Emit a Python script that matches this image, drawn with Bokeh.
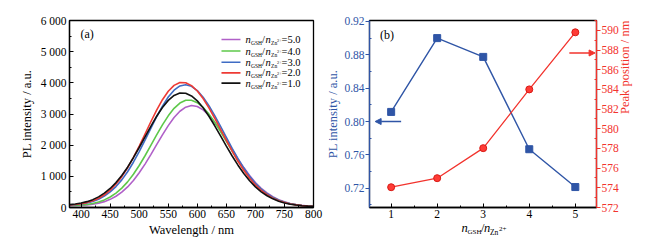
import math
from bokeh.plotting import figure
from bokeh.layouts import row, column
from bokeh.models import Range1d, LinearAxis, FixedTicker, Label, Arrow, NormalHead
from bokeh.embed import file_html
from bokeh.resources import INLINE

FONT = "Liberation Serif"

# ---------------- data: panel (a) ----------------
wavelength = [380, 390, 400, 410, 420, 430, 440, 450, 460, 470,
              480, 490, 500, 510, 520, 530, 540, 550, 560, 570,
              580, 590, 600, 610, 620, 630, 640, 650, 660, 670,
              680, 690, 700, 710, 720, 730, 740, 750, 760, 770,
              780, 790, 800]

pl_ratio_5 = [60, 62, 68, 81, 103, 137, 188, 261, 361, 492,
              659, 868, 1114, 1393, 1697, 2015, 2332, 2628, 2886, 3088,
              3219, 3270, 3239, 3133, 2960, 2731, 2461, 2166, 1862, 1562,
              1281, 1025, 801, 617, 466, 344, 251, 181, 129, 94,
              68, 50, 39]
pl_ratio_4 = [65, 69, 80, 99, 130, 177, 244, 337, 462, 623,
              822, 1066, 1348, 1660, 1991, 2328, 2651, 2942, 3181, 3350,
              3439, 3440, 3362, 3211, 2997, 2734, 2438, 2124, 1809, 1506,
              1224, 973, 756, 579, 436, 321, 234, 168, 121, 88,
              64, 48, 37]
pl_ratio_3 = [77, 89, 110, 143, 193, 265, 366, 499, 672, 887,
              1146, 1453, 1795, 2163, 2541, 2912, 3253, 3544, 3765, 3900,
              3940, 3887, 3751, 3540, 3267, 2949, 2603, 2247, 1897, 1567,
              1265, 999, 771, 588, 440, 323, 235, 169, 121, 88,
              64, 48, 37]
pl_ratio_2 = [80, 94, 118, 157, 214, 296, 409, 559, 752, 990,
              1274, 1605, 1971, 2359, 2751, 3125, 3459, 3730, 3919, 4012,
              4004, 3910, 3737, 3495, 3198, 2864, 2510, 2152, 1806, 1483,
              1193, 938, 722, 549, 411, 301, 219, 158, 114, 83,
              61, 46, 36]
pl_ratio_1 = [93, 112, 142, 188, 252, 341, 459, 611, 800, 1028,
              1293, 1597, 1925, 2267, 2606, 2927, 3209, 3437, 3596, 3673,
              3665, 3579, 3421, 3199, 2927, 2622, 2298, 1970, 1653, 1358,
              1092, 859, 661, 503, 377, 277, 202, 146, 106, 78,
              58, 44, 35]

series_labels = ["5.0", "4.0", "3.0", "2.0", "1.0"]
series_values = [pl_ratio_5, pl_ratio_4, pl_ratio_3, pl_ratio_2, pl_ratio_1]
series_colors = ["#b060c8", "#5ec84a", "#3f6cc4", "#ee3a34", "#111111"]

a_xticks = [400, 450, 500, 550, 600, 650, 700, 750, 800]
a_xminor = [425, 475, 525, 575, 625, 675, 725, 775]
a_yticks = [0, 1000, 2000, 3000, 4000, 5000, 6000]
a_yminor = [500, 1500, 2500, 3500, 4500, 5500]
a_ylabels = {0: "0", 1000: "1 000", 2000: "2 000", 3000: "3 000",
             4000: "4 000", 5000: "5 000", 6000: "6 000"}

# ---------------- data: panel (b) ----------------
ratio = [1, 2, 3, 4, 5]
rel_intensity = [0.8115, 0.8999, 0.8774, 0.7668, 0.7215]
peak_position = [574.06, 574.98, 578.03, 584.0, 589.8]

b_xticks = [1, 2, 3, 4, 5]
b_xminor = [1.5, 2.5, 3.5, 4.5]
b_yticks = [0.72, 0.76, 0.80, 0.84, 0.88, 0.92]
b_yminor = [0.70, 0.74, 0.78, 0.82, 0.86, 0.90]
b_rticks = [572, 574, 576, 578, 580, 582, 584, 586, 588, 590]
b_rminor = [573, 575, 577, 579, 581, 583, 585, 587, 589, 591]

BLUE = "#2f55a6"
RED = "#f2332d"


def style_axis(ax, color, tick_in, tick_out, minor_in, minor_out,
               tick_size="11.5px", label_size="12.5px"):
    ax.axis_line_color = color
    ax.axis_line_width = 1.3
    ax.major_tick_line_color = color
    ax.minor_tick_line_color = color
    ax.major_tick_in = tick_in
    ax.major_tick_out = tick_out
    ax.minor_tick_in = minor_in
    ax.minor_tick_out = minor_out
    ax.major_label_text_color = color
    ax.major_label_text_font = FONT
    ax.major_label_text_font_size = tick_size
    ax.axis_label_text_color = color
    ax.axis_label_text_font = FONT
    ax.axis_label_text_font_size = label_size
    ax.axis_label_text_font_style = "normal"


def rich_text(p, x, y, parts, y_range_name="default", color="black"):
    for text, dx, dy, size, style in parts:
        p.add_layout(Label(x=x, y=y, x_offset=dx, y_offset=dy, text=text,
                           text_font=FONT, text_font_size=f"{size}px",
                           text_font_style=style, text_baseline="middle",
                           text_align="left", text_color=color,
                           y_range_name=y_range_name))


# ---------------- panel (a) ----------------
p1 = figure(frame_width=244, frame_height=187,
            min_border_left=69, min_border_right=10,
            min_border_top=20, min_border_bottom=32,
            x_range=Range1d(380, 800), y_range=Range1d(0, 6000),
            output_backend="svg", toolbar_location=None)
p1.xgrid.visible = False
p1.ygrid.visible = False
p1.outline_line_color = "black"
p1.outline_line_width = 1.3
p1.background_fill_color = "white"
p1.border_fill_color = "white"

p1.xaxis.ticker = FixedTicker(ticks=a_xticks, minor_ticks=a_xminor)
p1.yaxis.ticker = FixedTicker(ticks=a_yticks, minor_ticks=a_yminor)
p1.yaxis.major_label_overrides = a_ylabels
p1.xaxis.axis_label = "Wavelength / nm"
p1.yaxis.axis_label = "PL intensity / a.u."
for ax in (p1.xaxis[0], p1.yaxis[0]):
    style_axis(ax, "black", 4, 0, 2, 0)
p1.xaxis.major_label_standoff = 2
p1.xaxis.axis_label_standoff = 2
p1.yaxis.major_label_standoff = 3
p1.yaxis.axis_label_standoff = 4

for vals, col in zip(series_values, series_colors):
    p1.line(wavelength, vals, line_color=col, line_width=1.6)

# legend (drawn by hand because of sub/superscripts)
leg_x0, leg_x1, leg_tx = 641.6, 674.3, 683.0
leg_rows = [5390, 5020, 4660, 4320, 3990]
for lab, col, yy in zip(series_labels, series_colors, leg_rows):
    p1.segment(x0=[leg_x0], y0=[yy], x1=[leg_x1], y1=[yy],
               line_color=col, line_width=1.6)
    rich_text(p1, leg_tx, yy, [
        ("n", 0, 0, 10.5, "italic"),
        ("GSH", 5.5, -3.5, 5.5, "normal"),
        ("/", 16.5, 0, 10.5, "normal"),
        ("n", 20, 0, 10.5, "italic"),
        ("Zn", 25.5, -3.5, 5.5, "normal"),
        ("2+", 31.5, -0.5, 4.5, "normal"),
        ("=" + lab, 36, 0, 10.5, "normal"),
    ])

p1.add_layout(Label(x=399, y=5570, text="(a)", text_font=FONT,
                    text_font_size="12px", text_baseline="middle",
                    text_align="left", text_color="black"))

# ---------------- panel (b) ----------------
p2 = figure(frame_width=227, frame_height=187,
            min_border_left=41, min_border_right=54,
            min_border_top=20, min_border_bottom=15,
            x_range=Range1d(0.53, 5.46), y_range=Range1d(0.697, 0.921),
            output_backend="svg", toolbar_location=None)
p2.xgrid.visible = False
p2.ygrid.visible = False
p2.outline_line_color = "black"
p2.outline_line_width = 1.3
p2.background_fill_color = "white"
p2.border_fill_color = "white"
p2.extra_y_ranges = {"peak": Range1d(572, 591)}

p2.xaxis.ticker = FixedTicker(ticks=b_xticks, minor_ticks=b_xminor)
p2.yaxis.ticker = FixedTicker(ticks=b_yticks, minor_ticks=b_yminor)
p2.yaxis.major_label_overrides = {v: f"{v:.2f}" for v in b_yticks}
style_axis(p2.xaxis[0], "black", 4, 0, 2, 0)
style_axis(p2.yaxis[0], BLUE, 0, 4, 2, 0, label_size="12.5px")
p2.yaxis.axis_label = "PL intensity / a.u."
p2.yaxis.major_label_standoff = 1
p2.yaxis.axis_label_standoff = 1
p2.xaxis.major_label_standoff = 2

rax = LinearAxis(y_range_name="peak",
                 ticker=FixedTicker(ticks=b_rticks, minor_ticks=b_rminor),
                 axis_label="Peak position / nm")
style_axis(rax, RED, 0, 4, 2, 0, label_size="12.5px")
rax.major_label_standoff = 1
rax.axis_label_standoff = 3
rax.axis_label_orientation = math.pi / 2
p2.add_layout(rax, "right")

p2.line(ratio, rel_intensity, line_color=BLUE, line_width=1.4)
p2.scatter(ratio, rel_intensity, marker="square", size=7,
           fill_color=BLUE, line_color=BLUE)
p2.line(ratio, peak_position, line_color=RED, line_width=1.3,
        y_range_name="peak")
p2.scatter(ratio, peak_position, marker="circle", size=7,
           fill_color="#ff3b36", line_color="#d81a14",
           y_range_name="peak")

p2.add_layout(Arrow(end=NormalHead(size=6, fill_color=BLUE, line_color=BLUE),
                    x_start=1.217, y_start=0.80, x_end=0.652, y_end=0.80,
                    line_color=BLUE, line_width=1.3))
p2.add_layout(Arrow(end=NormalHead(size=6, fill_color=RED, line_color=RED),
                    x_start=4.87, y_start=587.7, x_end=5.43, y_end=587.7,
                    line_color=RED, line_width=1.3, y_range_name="peak"))

p2.add_layout(Label(x=0.76, y=0.904, text="(b)", text_font=FONT,
                    text_font_size="12px", text_baseline="middle",
                    text_align="left", text_color="black"))

# strip under panel (b) carrying its x-axis title (sub/superscripts);
# its frame is aligned with panel (b)'s frame and shares its x range
p2lab = figure(frame_width=227, frame_height=17, min_border=0,
               x_range=p2.x_range, y_range=Range1d(0, 17),
               x_axis_type=None, y_axis_type=None,
               output_backend="svg", toolbar_location=None)
p2lab.xgrid.visible = False
p2lab.ygrid.visible = False
p2lab.outline_line_color = None
p2lab.background_fill_color = "white"
p2lab.border_fill_color = "white"
rich_text(p2lab, 2.528, 11.5, [
    ("n", 0, 0, 12.5, "italic"),
    ("GSH", 6, -4, 7, "normal"),
    ("/", 19.5, 0, 12.5, "normal"),
    ("n", 22.5, 0, 12.5, "italic"),
    ("Zn", 28.5, -4, 7.5, "normal"),
    ("2+", 37.5, -0.5, 7, "normal"),
])

layout = row(p1, column(p2, p2lab))
open("out.html", "w").write(file_html(layout, INLINE))
